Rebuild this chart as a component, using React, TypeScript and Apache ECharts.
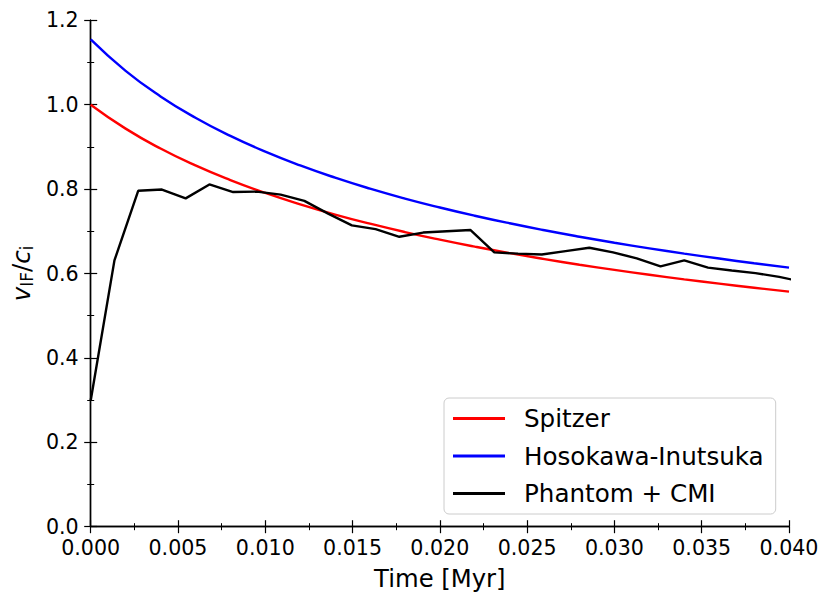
import React, { useEffect, useRef } from "react";
import * as echarts from "echarts";

const seriesNames = ["Spitzer", "Hosokawa-Inutsuka", "Phantom + CMI"];

const theoryTime = [
  0, 0.002, 0.004, 0.006, 0.008, 0.01, 0.012, 0.014, 0.016, 0.018, 0.02,
  0.022, 0.024, 0.026, 0.028, 0.03, 0.032, 0.034, 0.036, 0.038, 0.04,
];
const spitzerV = [
  1.0, 0.9433, 0.8961, 0.856, 0.8213, 0.7908, 0.7639, 0.7397, 0.718, 0.6982,
  0.6802, 0.6636, 0.6482, 0.6341, 0.6208, 0.6085, 0.597, 0.5861, 0.5759,
  0.5662, 0.5571,
];
const hosokawaV = [
  1.1547, 1.0802, 1.0197, 0.9691, 0.9261, 0.8888, 0.8561, 0.8271, 0.8011,
  0.7776, 0.7564, 0.7369, 0.719, 0.7025, 0.6872, 0.6729, 0.6596, 0.6471,
  0.6354, 0.6243, 0.6139,
];

const phantomTime = [
  0, 0.00136, 0.00272, 0.00408, 0.00544, 0.0068, 0.00816, 0.00952, 0.01088,
  0.01224, 0.0136, 0.01496, 0.01632, 0.01768, 0.01904, 0.0204, 0.02176,
  0.02312, 0.02448, 0.02584, 0.0272, 0.02856, 0.02992, 0.03128, 0.03264,
  0.034, 0.03536, 0.03672, 0.03808, 0.03944, 0.0408,
];
const phantomV = [
  0.299, 0.631, 0.796, 0.799, 0.778, 0.811, 0.793, 0.794, 0.787, 0.772, 0.742,
  0.714, 0.705, 0.687, 0.697, 0.7, 0.703, 0.65, 0.647, 0.645, 0.653, 0.661,
  0.65, 0.636, 0.617, 0.631, 0.614, 0.607, 0.601, 0.592, 0.58,
];

const xMin = 0;
const xMax = 0.04;
const xInterval = 0.005;
const yMin = 0;
const yMax = 1.2;
const yInterval = 0.2;

const FONT = "DejaVu Sans";

export default function App() {
  const ref = useRef<HTMLDivElement>(null);
  useEffect(() => {
    if (!ref.current) return;
    const chart = echarts.init(ref.current, null, { renderer: "svg" });
    const axisLine = { show: true, lineStyle: { color: "#000", width: 1.4 } };
    const tick = { show: true, inside: false, length: 6.5, lineStyle: { color: "#000", width: 1.2 } };
    const minor = { show: true, splitNumber: 2, length: 3.5, lineStyle: { color: "#000", width: 1 } };
    const option: any = {
      animation: false,
      backgroundColor: "#fff",
      grid: {
        left: 90.7,
        right: 42,
        top: 20.3,
        bottom: 77.3,
        containLabel: false,
        outerBoundsMode: "none",
      },
      legend: {
        data: seriesNames,
        orient: "vertical",
        left: 444,
        top: 398,
        padding: [8, 12, 8, 9],
        itemGap: 12.5,
        itemWidth: 52,
        itemHeight: 3,
        icon: "rect",
        borderColor: "#cccccc",
        borderWidth: 1,
        borderRadius: 5,
        backgroundColor: "rgba(255,255,255,0.8)",
        textStyle: {
          fontFamily: FONT,
          fontSize: 24.6,
          color: "#000",
          lineHeight: 24,
          padding: [0, 0, 0, 14],
        },
      },
      xAxis: [
        {
          type: "value",
          min: xMin,
          max: xMax,
          interval: xInterval,
          position: "bottom",
          name: "Time [Myr]",
          nameLocation: "middle",
          nameGap: 40,
          nameTextStyle: { fontFamily: FONT, fontSize: 24.3, color: "#000" },
          axisLine,
          axisTick: tick,
          minorTick: minor,
          splitLine: { show: false },
          axisLabel: {
            fontFamily: FONT,
            fontSize: 20.6,
            color: "#000",
            margin: 11,
            formatter: (v: number) => v.toFixed(3),
          },
        },
        {
          type: "value",
          min: xMin,
          max: xMax,
          interval: xInterval,
          position: "top",
          axisLine,
          axisTick: tick,
          minorTick: minor,
          splitLine: { show: false },
          axisLabel: { show: false },
        },
      ],
      yAxis: [
        {
          type: "value",
          min: yMin,
          max: yMax,
          interval: yInterval,
          position: "left",
          name: "{it|v}{sub|IF}{n|/}{it|c}{sub|i}",
          nameLocation: "middle",
          nameRotate: 90,
          nameGap: 52,
          nameTextStyle: {
            fontFamily: FONT,
            fontSize: 24,
            color: "#000",
            rich: {
              it: { fontFamily: FONT, fontSize: 24.5, fontStyle: "italic", color: "#000", lineHeight: 24 },
              n: { fontFamily: FONT, fontSize: 24.5, color: "#000", lineHeight: 24 },
              sub: { fontFamily: FONT, fontSize: 17, color: "#000", lineHeight: 17, padding: [10, 0, 0, 0] },
            },
          },
          axisLine,
          axisTick: tick,
          minorTick: minor,
          splitLine: { show: false },
          axisLabel: {
            fontFamily: FONT,
            fontSize: 20.6,
            color: "#000",
            margin: 12,
            formatter: (v: number) => v.toFixed(1),
          },
        },
        {
          type: "value",
          min: yMin,
          max: yMax,
          interval: yInterval,
          position: "right",
          axisLine,
          axisTick: tick,
          minorTick: minor,
          splitLine: { show: false },
          axisLabel: { show: false },
        },
      ],
      series: [
        {
          name: seriesNames[0],
          type: "line",
          data: theoryTime.map((t, i) => [t, spitzerV[i]]),
          showSymbol: false,
          symbol: "none",
          smooth: true,
          color: "#ff0000",
          lineStyle: { color: "#ff0000", width: 2.4 },
          z: 2,
        },
        {
          name: seriesNames[1],
          type: "line",
          data: theoryTime.map((t, i) => [t, hosokawaV[i]]),
          showSymbol: false,
          symbol: "none",
          smooth: true,
          color: "#0000ff",
          lineStyle: { color: "#0000ff", width: 2.4 },
          z: 3,
        },
        {
          name: seriesNames[2],
          type: "line",
          data: phantomTime.map((t, i) => [t, phantomV[i]]),
          showSymbol: false,
          symbol: "none",
          color: "#000000",
          lineStyle: { color: "#000000", width: 2.4 },
          clip: true,
          z: 4,
        },
      ],
    };
    chart.setOption(option);
    return () => chart.dispose();
  }, []);
  return (
    <div
      ref={ref}
      style={{ position: "fixed", left: 0, top: 0, width: 831, height: 604, background: "#fff" }}
    />
  );
}
